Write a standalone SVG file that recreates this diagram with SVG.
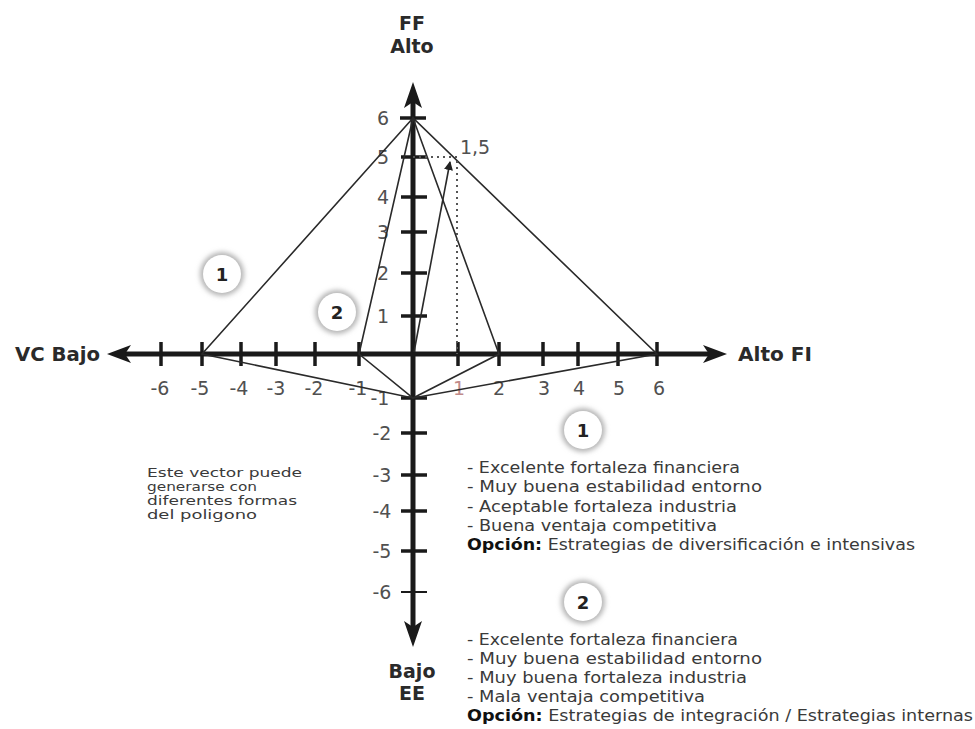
<svg xmlns="http://www.w3.org/2000/svg" width="975" height="729" viewBox="0 0 975 729">
<defs>
<style>
.ax{stroke:#1a1a1a;stroke-width:5;fill:none}
.tk{stroke:#1a1a1a;stroke-width:3.5}
.pl{stroke:#2a2a2a;stroke-width:1.6;fill:none}
.num{font-family:"DejaVu Sans","Liberation Sans",sans-serif;font-size:19px;fill:#505050;text-anchor:middle}
.lbl{font-family:"DejaVu Sans","Liberation Sans",sans-serif;font-size:19px;font-weight:bold;fill:#2a2a2a}
.txt{font-family:"DejaVu Sans","Liberation Sans",sans-serif;font-size:15.5px;fill:#3a3a3a}
.nt{font-family:"DejaVu Sans","Liberation Sans",sans-serif;font-size:12px;fill:#3a3a3a}
.b{font-weight:bold;fill:#111}
.cn{font-family:"DejaVu Sans","Liberation Sans",sans-serif;font-size:18px;font-weight:bold;fill:#222;text-anchor:middle}
</style>
<filter id="sh" x="-50%" y="-50%" width="200%" height="200%"><feGaussianBlur stdDeviation="2.5"/></filter>
<marker id="vh" viewBox="0 0 10 10" refX="9" refY="5" markerWidth="9" markerHeight="9" markerUnits="userSpaceOnUse" orient="auto"><path d="M0,0 L10,5 L0,10 z" fill="#222"/></marker>
<symbol id="circ" overflow="visible"><circle cx="0" cy="0" r="22" fill="#b5b5b5" filter="url(#sh)"/><circle cx="0" cy="0" r="19" fill="#fff"/></symbol>
</defs>
<rect width="975" height="729" fill="#fff"/>

<g id="axes">
<line class="ax" x1="124" y1="354" x2="710" y2="354"/>
<line class="ax" x1="413" y1="102" x2="413" y2="628"/>
<path d="M107,354 L131,345 L125,354 L131,363 z" fill="#1a1a1a"/>
<path d="M727,354 L703,345 L709,354 L703,363 z" fill="#1a1a1a"/>
<path d="M413,82 L404,108 L413,102 L422,108 z" fill="#1a1a1a"/>
<path d="M413,647 L404,621 L413,627 L422,621 z" fill="#1a1a1a"/>
<g class="tk">
<line x1="161" y1="342" x2="161" y2="366"/><line x1="202" y1="342" x2="202" y2="366"/><line x1="241" y1="342" x2="241" y2="366"/><line x1="276" y1="342" x2="276" y2="366"/><line x1="315" y1="342" x2="315" y2="366"/><line x1="359" y1="342" x2="359" y2="366"/>
<line x1="458" y1="342" x2="458" y2="366"/><line x1="499" y1="342" x2="499" y2="366"/><line x1="543" y1="342" x2="543" y2="366"/><line x1="578" y1="342" x2="578" y2="366"/><line x1="618" y1="342" x2="618" y2="366"/><line x1="657" y1="342" x2="657" y2="366"/>
<line x1="400" y1="118" x2="426" y2="118"/><line x1="401" y1="157" x2="427" y2="157"/><line x1="401" y1="197" x2="427" y2="197"/><line x1="401" y1="232" x2="427" y2="232"/><line x1="401" y1="273" x2="427" y2="273"/><line x1="401" y1="316" x2="427" y2="316"/>
<line x1="401" y1="398" x2="427" y2="398"/><line x1="401" y1="433" x2="427" y2="433"/><line x1="401" y1="475" x2="427" y2="475"/><line x1="401" y1="511" x2="427" y2="511"/><line x1="401" y1="551" x2="427" y2="551"/><line x1="401" y1="592" x2="427" y2="592" stroke-width="2"/>
</g>
<g class="num">
<text x="160" y="395">-6</text><text x="200" y="395">-5</text><text x="239" y="395">-4</text><text x="276" y="395">-3</text><text x="314" y="395">-2</text><text x="358" y="395">-1</text>
<text x="459" y="395" fill="#c08a8a">1</text><text x="499" y="395">2</text><text x="544" y="395">3</text><text x="579" y="395">4</text><text x="619" y="395">5</text><text x="659" y="395">6</text>
<text x="383" y="125">6</text><text x="383" y="164">5</text><text x="383" y="204">4</text><text x="383" y="239">3</text><text x="383" y="280">2</text><text x="383" y="323">1</text>
<text x="380" y="405">-1</text><text x="382" y="440">-2</text><text x="382" y="482">-3</text><text x="382" y="518">-4</text><text x="382" y="558">-5</text><text x="382" y="599">-6</text>
<text x="475" y="154">1,5</text>
</g>
</g>

<g id="label-ff"><text class="lbl" x="412" y="30" text-anchor="middle">FF</text><text class="lbl" x="412" y="53" text-anchor="middle">Alto</text></g>
<g id="label-ee"><text class="lbl" x="412" y="678" text-anchor="middle">Bajo</text><text class="lbl" x="412" y="700" text-anchor="middle">EE</text></g>
<g id="label-vc"><text class="lbl" x="15" y="361" textLength="85" lengthAdjust="spacingAndGlyphs">VC Bajo</text></g>
<g id="label-fi"><text class="lbl" x="738" y="361" textLength="74" lengthAdjust="spacingAndGlyphs">Alto FI</text></g>

<g id="connectors">
<polygon class="pl" points="413,118 202,354 413,398 657,354"/>
<polygon class="pl" points="413,118 359,354 413,398 499,354"/>
<line class="pl" x1="414" y1="352" x2="450" y2="162" marker-end="url(#vh)"/>
<polyline points="413,157 457,157 457,354" fill="none" stroke="#555" stroke-width="2" stroke-dasharray="2,4"/>
</g>

<g id="badge-1a"><use href="#circ" x="222" y="274"/><text class="cn" x="222" y="281">1</text></g>
<g id="badge-2a"><use href="#circ" x="337" y="312"/><text class="cn" x="337" y="319">2</text></g>

<g id="note-left" class="nt">
<text x="147" y="477" textLength="155" lengthAdjust="spacingAndGlyphs">Este vector puede</text>
<text x="147" y="491" textLength="110" lengthAdjust="spacingAndGlyphs">generarse con</text>
<text x="147" y="505" textLength="150" lengthAdjust="spacingAndGlyphs">diferentes formas</text>
<text x="147" y="519" textLength="110" lengthAdjust="spacingAndGlyphs">del poligono</text>
</g>

<g id="option-1">
<use href="#circ" x="583" y="430"/><text class="cn" x="583" y="437">1</text>
<g class="txt">
<text x="467" y="473" textLength="273" lengthAdjust="spacingAndGlyphs">- Excelente fortaleza financiera</text>
<text x="467" y="492" textLength="295" lengthAdjust="spacingAndGlyphs">- Muy buena estabilidad entorno</text>
<text x="467" y="512" textLength="270" lengthAdjust="spacingAndGlyphs">- Aceptable fortaleza industria</text>
<text x="467" y="531" textLength="250" lengthAdjust="spacingAndGlyphs">- Buena ventaja competitiva</text>
<text x="467" y="550" textLength="448" lengthAdjust="spacingAndGlyphs"><tspan class="b">Opción:</tspan> Estrategias de diversificación e intensivas</text>
</g>
</g>

<g id="option-2">
<use href="#circ" x="583" y="602"/><text class="cn" x="583" y="609">2</text>
<g class="txt">
<text x="467" y="645" textLength="271" lengthAdjust="spacingAndGlyphs">- Excelente fortaleza financiera</text>
<text x="467" y="664" textLength="295" lengthAdjust="spacingAndGlyphs">- Muy buena estabilidad entorno</text>
<text x="467" y="683" textLength="280" lengthAdjust="spacingAndGlyphs">- Muy buena fortaleza industria</text>
<text x="467" y="702" textLength="238" lengthAdjust="spacingAndGlyphs">- Mala ventaja competitiva</text>
<text x="467" y="721" textLength="506" lengthAdjust="spacingAndGlyphs"><tspan class="b">Opción:</tspan> Estrategias de integración / Estrategias internas</text>
</g>
</g>
</svg>
